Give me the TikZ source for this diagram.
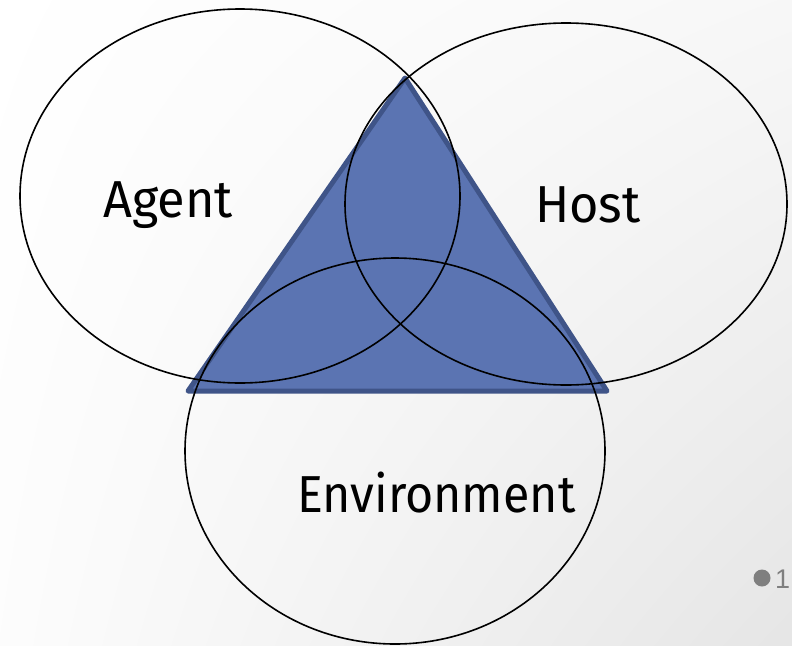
\documentclass[tikz,border=0pt]{standalone}
\usepackage{fontspec}
\setmainfont{Fira Sans}
\newfontfamily\numfont{Liberation Sans}
\usetikzlibrary{shapes.geometric,shadings}
\definecolor{trifill}{HTML}{5B74B2}
\definecolor{triedge}{HTML}{3F5488}
\definecolor{dotgray}{HTML}{7F7F7F}
\begin{document}
\begin{tikzpicture}[x=1pt,y=-1pt,
  circ/.style={draw=black, line width=1.6pt},
  lbl/.style={font=\fontsize{52}{60}\selectfont, inner sep=0pt, anchor=base west}]
\useasboundingbox (0,0) rectangle (792,645);
\shade[upper left=white, lower left=white!99!black, upper right=black!3, lower right=black!10] (0,0) rectangle (792,645);
% triangle
\coordinate (apex) at (405,78);
\coordinate (bl) at (188,391);
\coordinate (br) at (607,391);
\filldraw[fill=trifill, draw=triedge, line width=5pt, line join=round] (apex) -- (br) -- (bl) -- cycle;
% ellipses
\node[circ, ellipse, minimum width=440pt, minimum height=374pt, inner sep=0pt] (agent) at (240,196) {};
\node[circ, ellipse, minimum width=442pt, minimum height=362pt, inner sep=0pt] (host) at (566,204) {};
\node[circ, ellipse, minimum width=420pt, minimum height=386pt, inner sep=0pt] (env) at (395,451) {};
% labels
\node[lbl] (tagent) at (103,217) {\scalebox{0.97}[1]{Agent}};
\node[lbl] (thost) at (535,222) {\scalebox{0.97}[1]{Host}};
\node[lbl] (tenv) at (297,512) {\scalebox{0.93}[1]{Environment}};
% page marker
\fill[dotgray] (762,578) circle (8.5pt) coordinate (dot);
\node[font=\numfont\fontsize{27}{30}\selectfont, text=dotgray, inner sep=0pt, anchor=base west] (num) at (775,588) {1};
\end{tikzpicture}
\end{document}
